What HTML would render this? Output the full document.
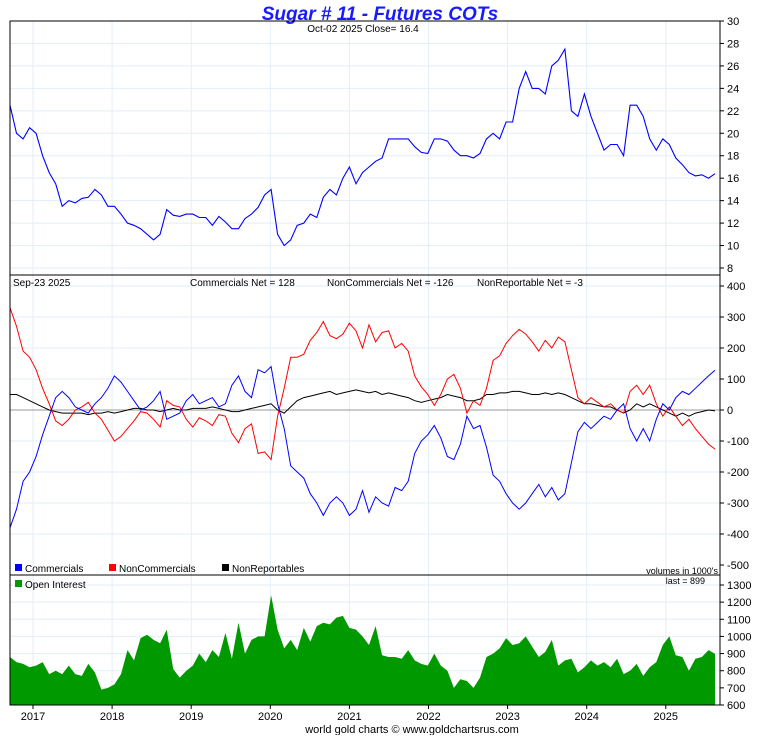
<!DOCTYPE html>
<html><head><meta charset="utf-8"><style>
body{margin:0;background:#fff;font-family:"Liberation Sans",sans-serif}
svg text{font-family:"Liberation Sans",sans-serif}
</style></head><body>
<svg id="c" width="760" height="735" xmlns="http://www.w3.org/2000/svg">
<text x="380" y="20" text-anchor="middle" font-size="19" font-weight="bold" font-style="italic" fill="#1a1aff">Sugar # 11 - Futures COTs</text>
<text x="363" y="32" text-anchor="middle" font-size="10" fill="#000">Oct-02  2025   Close= 16.4</text>
<text x="13" y="286" font-size="10" fill="#000">Sep-23  2025</text>
<text x="190" y="286" font-size="10" fill="#000">Commercials Net = 128</text>
<text x="327" y="286" font-size="10" fill="#000">NonCommercials Net = -126</text>
<text x="477" y="286" font-size="10" fill="#000">NonReportable Net = -3</text>
<g>
<rect x="15" y="564" width="7" height="7" fill="#0000ff"/><text x="25" y="572" font-size="10">Commercials</text>
<rect x="109" y="564" width="7" height="7" fill="#ff0000"/><text x="119" y="572" font-size="10">NonCommercials</text>
<rect x="222" y="564" width="7" height="7" fill="#000"/><text x="232" y="572" font-size="10">NonReportables</text>
</g>
<text x="718" y="574" text-anchor="end" font-size="9">volumes in 1000's</text>
<g><rect x="15" y="580" width="7" height="7" fill="#009900"/><text x="25" y="588" font-size="10">Open Interest</text></g>
<text x="705" y="584" text-anchor="end" font-size="9">last = 899</text>
<text x="412" y="733" text-anchor="middle" font-size="11">world gold charts © www.goldchartsrus.com</text>
</svg>
<script>
const price=[22.5,20,19.5,20.5,20,18,16.5,15.5,13.5,14,13.8,14.2,14.3,15,14.5,13.5,13.5,12.8,12,11.8,11.5,11,10.5,11,13.2,12.7,12.6,12.8,12.8,12.5,12.5,11.8,12.6,12.1,11.5,11.5,12.4,12.8,13.4,14.5,15,11,10,10.5,11.8,12,12.8,12.5,14.3,15,14.5,16,17,15.5,16.5,17,17.5,17.8,19.5,19.5,19.5,19.5,18.8,18.3,18.2,19.5,19.5,19.3,18.5,18,18,17.8,18.2,19.5,20,19.5,21,21,24,25.5,24,24,23.5,26,26.5,27.5,22,21.5,23.5,21.5,20,18.5,19,19,18,22.5,22.5,21.5,19.5,18.5,19.5,19,17.8,17.2,16.5,16.2,16.3,16.0,16.4];
const commercials=[-380,-320,-230,-200,-150,-80,-20,40,60,40,10,0,-10,20,40,70,110,90,60,30,0,10,30,60,-30,-20,-10,30,50,20,30,40,10,20,80,110,60,40,130,120,140,20,-60,-180,-200,-220,-270,-300,-340,-300,-280,-300,-340,-320,-260,-330,-280,-300,-310,-250,-260,-230,-140,-100,-80,-50,-90,-150,-160,-110,-20,-60,-50,-120,-210,-230,-270,-300,-320,-300,-270,-240,-280,-250,-290,-270,-170,-70,-40,-60,-40,-20,-30,0,20,-60,-100,-60,-100,-30,20,0,40,60,50,70,90,110,128];
const noncommercials=[330,270,190,170,130,70,20,-35,-50,-30,0,10,25,-10,-30,-65,-100,-85,-60,-35,-5,-10,-30,-55,30,15,10,-30,-55,-25,-35,-50,-15,-20,-75,-105,-60,-45,-140,-135,-160,-20,70,170,170,180,225,250,285,240,230,245,280,255,200,275,220,250,255,200,215,190,110,75,50,15,50,100,115,70,-10,30,15,70,160,175,215,240,260,245,220,190,225,200,235,220,130,40,20,40,25,10,20,0,-10,60,80,50,80,20,-20,10,-20,-50,-30,-60,-85,-110,-126];
const nonreportables=[50,50,40,30,20,10,0,-5,-10,-10,-10,-10,-15,-10,-10,-5,-10,-5,0,5,5,0,0,-5,0,5,0,0,5,5,5,10,5,0,-5,-5,0,5,10,15,20,0,-10,10,30,40,45,50,55,60,50,55,60,65,60,55,60,50,55,50,45,40,30,25,30,35,40,50,45,40,30,30,35,50,50,55,55,60,60,55,50,50,55,50,55,50,40,30,20,20,15,10,10,0,-10,0,20,10,20,10,0,-10,-20,-10,-20,-10,-5,0,-3];
const openInterest=[880,850,840,820,830,850,780,800,780,830,780,770,840,790,690,700,720,780,920,860,990,1010,980,960,1040,810,760,800,830,900,850,920,880,1020,870,1080,900,980,1000,1000,1240,1040,930,980,920,1050,970,1060,1080,1070,1110,1120,1050,1040,1000,950,1060,890,880,880,870,920,860,840,830,900,830,800,700,750,740,700,760,880,900,930,990,950,960,1000,940,880,910,980,830,860,870,790,820,860,830,850,820,870,780,800,840,770,820,850,950,1000,890,880,800,870,880,920,899];
const years=[2017,2018,2019,2020,2021,2022,2023,2024,2025];
const priceTicks=[8,10,12,14,16,18,20,22,24,26,28,30];
const cotTicks=[-500,-400,-300,-200,-100,0,100,200,300,400];
const oiTicks=[600,700,800,900,1000,1100,1200,1300];
const L=10,R=720;
const X=t=>33+(t-2017)*79.1;
const XI=(i,n)=>10+i*(715-10)/(n-1);
const yP=v=>21+(30-v)*(268-21)/22;
const yC=v=>410-v*0.31;
const yO=v=>705-(v-600)*(120/700);
const NS='http://www.w3.org/2000/svg';
const svg=document.getElementById('c');
function mk(tag,attrs,parent){const e=document.createElementNS(NS,tag);for(const k in attrs)e.setAttribute(k,attrs[k]);(parent||svg).appendChild(e);return e;}
const grid=mk('g',{});


svg.insertBefore(grid,svg.firstChild);
years.forEach(y=>{mk('line',{x1:X(y),x2:X(y),y1:21,y2:705,stroke:'#e3eef8','stroke-width':1},grid);});
priceTicks.forEach(v=>{mk('line',{x1:L,x2:R,y1:yP(v),y2:yP(v),stroke:'#e3eef8'},grid);});
cotTicks.forEach(v=>{if(v>-500)mk('line',{x1:L,x2:R,y1:yC(v),y2:yC(v),stroke:'#e3eef8'},grid);});
oiTicks.forEach(v=>{mk('line',{x1:L,x2:R,y1:yO(v),y2:yO(v),stroke:'#e3eef8'},grid);});
function path(arr,yf){return arr.map((v,i)=>(i?'L':'M')+XI(i,arr.length).toFixed(1)+','+yf(v).toFixed(1)).join(' ');}
const n=openInterest.length;
let d='M'+XI(0,n)+','+yO(600)+' '+openInterest.map((v,i)=>'L'+XI(i,n).toFixed(1)+','+yO(v).toFixed(1)).join(' ')+' L'+XI(n-1,n)+','+yO(600)+'Z';
const oi=mk('path',{d:d,fill:'#009900'});


const zl=mk('line',{x1:L,x2:R,y1:yC(0),y2:yC(0),stroke:'#999'});


const pl=mk('path',{d:path(price,yP),fill:'none',stroke:'#0000ff','stroke-width':1.1});


const nr=mk('path',{d:path(nonreportables,yC),fill:'none',stroke:'#000','stroke-width':1});


const nc=mk('path',{d:path(noncommercials,yC),fill:'none',stroke:'#ff0000','stroke-width':1});


const cm=mk('path',{d:path(commercials,yC),fill:'none',stroke:'#0000ff','stroke-width':1});


[[21,275],[275,575],[575,705]].forEach(([a,b])=>{mk('rect',{x:L,y:a,width:R-L,height:b-a,fill:'none',stroke:'#000','stroke-width':1});});
function ticks(arr,yf,name){arr.forEach(v=>{mk('line',{x1:R,x2:R+4,y1:yf(v),y2:yf(v),stroke:'#000'});const t=mk('text',{x:R+7,y:yf(v)+4,'font-size':11});t.textContent=v;});}
ticks(priceTicks,yP,'price-tick-label');
ticks(cotTicks,yC,'cot-tick-label');
ticks(oiTicks,yO,'oi-tick-label');
years.forEach(y=>{mk('line',{x1:X(y),x2:X(y),y1:705,y2:709,stroke:'#000'});const t=mk('text',{x:X(y),y:720,'font-size':11,'text-anchor':'middle'});t.textContent=y;});
</script>
</body></html>
